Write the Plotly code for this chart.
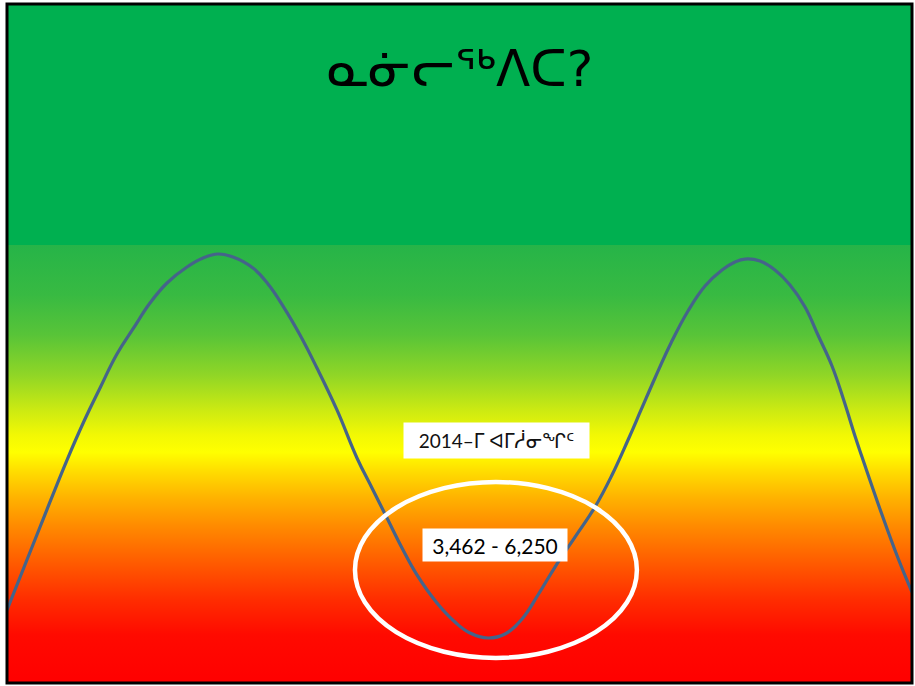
import plotly.graph_objects as go

# ---- data (abstract time / population index units) ----
cycle_t = [0.0, 3.65, 6.63, 8.62, 10.28, 12.15, 13.92, 15.80, 17.68, 19.89, 21.66, 23.31,
           24.97, 27.18, 28.84, 30.50, 32.38, 34.25, 36.46, 38.67, 40.33, 41.99, 43.65,
           45.30, 47.51, 49.50, 51.16, 53.15, 55.03, 56.91, 58.67, 60.55, 62.76, 64.97,
           66.85, 68.62, 70.06, 71.60, 73.37, 75.25, 77.13, 79.01, 80.44, 81.55, 83.20,
           84.86, 86.52, 88.18, 89.61, 91.16, 92.49, 93.70, 94.48, 96.46, 98.45, 100.0]
cycle_level = [10.75, 22.97, 32.84, 38.88, 43.45, 48.45, 52.14, 55.96, 58.91, 61.27, 62.59, 63.18,
               62.74, 61.12, 58.76, 55.52, 51.25, 46.39, 40.21, 33.14, 28.72, 24.30, 19.88,
               15.91, 11.78, 8.98, 7.36, 6.63, 7.22, 9.43, 12.96, 17.08, 21.50, 25.92,
               30.63, 35.79, 40.21, 44.92, 50.07, 54.79, 58.47, 60.82, 62.00, 62.44, 62.15,
               60.82, 58.62, 55.38, 51.25, 46.69, 41.53, 36.38, 33.28, 25.63, 18.41, 13.40]

title_text = "ᓇᓃᓕᖅᐱᑕ?"
label_year = "2014–ᒥ ᐊᒥᓲᓂᖏᑦ"
label_range = "3,462 - 6,250"

band_top = 64.5  # level where the plain green band begins

fig = go.Figure()

# plain green band on top
fig.add_shape(type="rect", xref="x", yref="y", x0=0, x1=100, y0=band_top, y1=100,
              fillcolor="#00B050", line_width=0, layer="below")

# gradient region (green -> yellow -> orange -> red)
fig.add_trace(go.Scatter(
    x=[0, 100, 100, 0, 0], y=[0, 0, band_top, band_top, 0],
    mode="lines", line=dict(width=0), fill="toself", hoverinfo="skip",
    fillgradient=dict(type="vertical", start=0, stop=band_top,
                      colorscale=[[0.000, "#FF0000"], [0.110, "#FF0A00"], [0.189, "#FF2C00"],
                                  [0.276, "#FF5C00"], [0.361, "#FF8C00"], [0.425, "#FFB400"],
                                  [0.482, "#FFDC00"], [0.527, "#FFFF00"], [0.566, "#F2F804"],
                                  [0.623, "#CCEA12"], [0.703, "#90D626"], [0.795, "#58C438"],
                                  [0.886, "#38BA42"], [1.000, "#26B448"]]),
    showlegend=False))

# population cycle curve
fig.add_trace(go.Scatter(
    x=cycle_t, y=cycle_level, mode="lines",
    line=dict(color="#45648A", width=3.2, shape="spline", smoothing=1.2),
    hoverinfo="skip", showlegend=False))

# white ellipse around the trough
fig.add_shape(type="circle", xref="paper", yref="paper",
              x0=0.3845, x1=0.696, y0=0.037, y1=0.296,
              line=dict(color="white", width=4.5), fillcolor="rgba(0,0,0,0)", layer="above")

# frame
fig.add_shape(type="rect", xref="paper", yref="paper", x0=0, x1=1, y0=0, y1=1,
              line=dict(color="black", width=3), fillcolor="rgba(0,0,0,0)", layer="above")

# title
fig.add_annotation(xref="paper", yref="paper", x=0.5006, y=0.905, text=title_text,
                   showarrow=False, font=dict(family="DejaVu Sans", size=50, color="black"),
                   xanchor="center", yanchor="middle")

# labels
fig.add_annotation(xref="paper", yref="paper", x=0.541, y=0.357, text=label_year,
                   showarrow=False, bgcolor="white", width=185, height=35, borderpad=0,
                   font=dict(family="Lato, DejaVu Sans", size=19, color="#111111"),
                   xanchor="center", yanchor="middle")
fig.add_annotation(xref="paper", yref="paper", x=0.539, y=0.203, text=label_range,
                   showarrow=False, bgcolor="white", width=144, height=32, borderpad=0,
                   font=dict(family="Lato, DejaVu Sans", size=21, color="#000000"),
                   xanchor="center", yanchor="middle")

fig.update_xaxes(range=[0, 100], visible=False, fixedrange=True)
fig.update_yaxes(range=[0, 100], visible=False, fixedrange=True)
fig.update_layout(width=915, height=686, margin=dict(l=7, r=3, t=4, b=3),
                  paper_bgcolor="white", plot_bgcolor="white")

fig.write_html("out.html", config={"displayModeBar": False},
               post_script="document.body.style.margin='0';document.body.style.overflow='hidden';")
